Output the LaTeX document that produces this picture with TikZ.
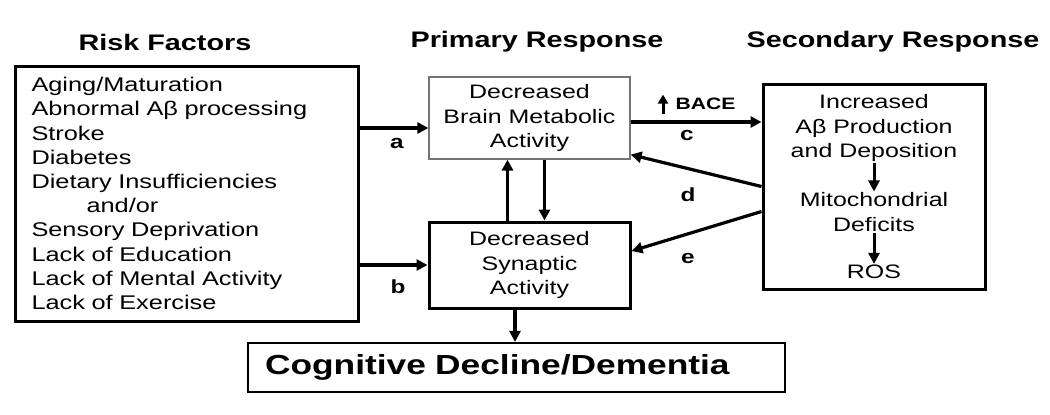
\documentclass[tikz,border=0pt]{standalone}
\usepackage{fontspec}
\setmainfont{Liberation Sans}[FakeStretch=1.28]
\usetikzlibrary{arrows.meta,calc}
\tikzset{%
  box/.style={rectangle,draw,line width=3pt,align=center},
  thinbox/.style={rectangle,draw=black!55,line width=1.2pt,align=center},
  title/.style={font=\fontsize{22.5}{27}\selectfont\bfseries},
  lbl/.style={font=\fontsize{19}{23}\selectfont\bfseries},
  arr/.style={line width=3.2pt,-{Triangle[length=11pt,width=11pt]}}
}

\begin{document}
\begin{tikzpicture}[x=1pt,y=-1pt,font=\fontsize{19.5}{24.3}\selectfont]
  \useasboundingbox (0,0) rectangle (1050,415);

  % column titles
  \node [title] (trisk) at (165,42) {Risk Factors};
  \node [title] (tprim) at (537,42) {Primary Response};
  \node [title] (tsec)  at (893,42) {Secondary Response};

  % boxes
  \node [box,minimum width=343,minimum height=255,text width=310,align=left,
         font=\fontsize{19.8}{24.2}\selectfont] (risk) at (186.5,193.5)
        {Aging/Maturation\\Abnormal Aβ processing\\Stroke\\Diabetes\\
         Dietary Insufficiencies\\\hspace*{55pt}and/or\\Sensory Deprivation\\
         Lack of Education\\Lack of Mental Activity\\Lack of Exercise};
  \node [thinbox,minimum width=201,minimum height=82] (brain) at (529.5,118)
        {Decreased\\Brain Metabolic\\Activity};
  \node [box,minimum width=201,minimum height=86] (syn) at (529.5,265)
        {Decreased\\Synaptic\\Activity};
  \node [box,minimum width=222,minimum height=205] (sec) at (874,186.5) {};
  \node [box,line width=2.2pt,minimum width=537,minimum height=49,
         inner xsep=17pt,text width=503,align=left,
         font=\fontsize{27.6}{32}\selectfont\bfseries] (cog) at (516.5,367.5)
        {Cognitive Decline/Dementia};

  % inside the secondary box
  \node [inner sep=1pt,align=center] (abeta) at (874,128) {Increased\\Aβ Production\\and Deposition};
  \node [inner sep=1pt,align=center] (mito)  at (874,212) {Mitochondrial\\Deficits};
  \node [inner sep=1pt,align=center] (ros)   at (874,272) {ROS};
  \draw [arr,line width=3pt] (abeta.south) -- (mito.north);
  \draw [arr,line width=3pt] (mito.south) -- (ros.north);

  % connectors
  \draw [arr] ([yshift=-10pt]brain.west -| risk.east) -- ([yshift=-10pt]brain.west);
  \draw [arr] (risk.east |- syn.west) -- (syn.west);
  \draw [arr] ([xshift=-22pt]syn.north) -- ([xshift=-22pt]brain.south);
  \draw [arr] ([xshift=15pt]brain.south) -- ([xshift=15pt]syn.north);
  \draw [arr] ([yshift=-4pt]brain.east) -- ([yshift=-4pt]brain.east -| sec.west);
  \draw [arr] (sec.west) -- ([yshift=5pt]brain.south east);
  \draw [arr] ([yshift=-25pt]sec.west) -- ([yshift=14pt]syn.east);
  \draw [arr] ([xshift=-1.5pt]cog.north |- syn.south) -- ([xshift=-1.5pt]cog.north);

  % labels
  \node [lbl] (la) at (397,143) {a};
  \node [lbl] (lb) at (398,287) {b};
  \node [lbl] (lc) at (687,135) {c};
  \node [lbl] (ld) at (688,195) {d};
  \node [lbl] (le) at (688,258) {e};
  \node [lbl,font=\fontsize{16.5}{20}\selectfont\bfseries,anchor=west] (bace) at (672,104) {BACE};
  \coordinate (bacelo) at (663,114);
  \draw [arr,line width=3pt,-{Triangle[length=9pt,width=10pt]}] (bacelo) -- (bacelo |- bace.north);
\end{tikzpicture}
\end{document}
